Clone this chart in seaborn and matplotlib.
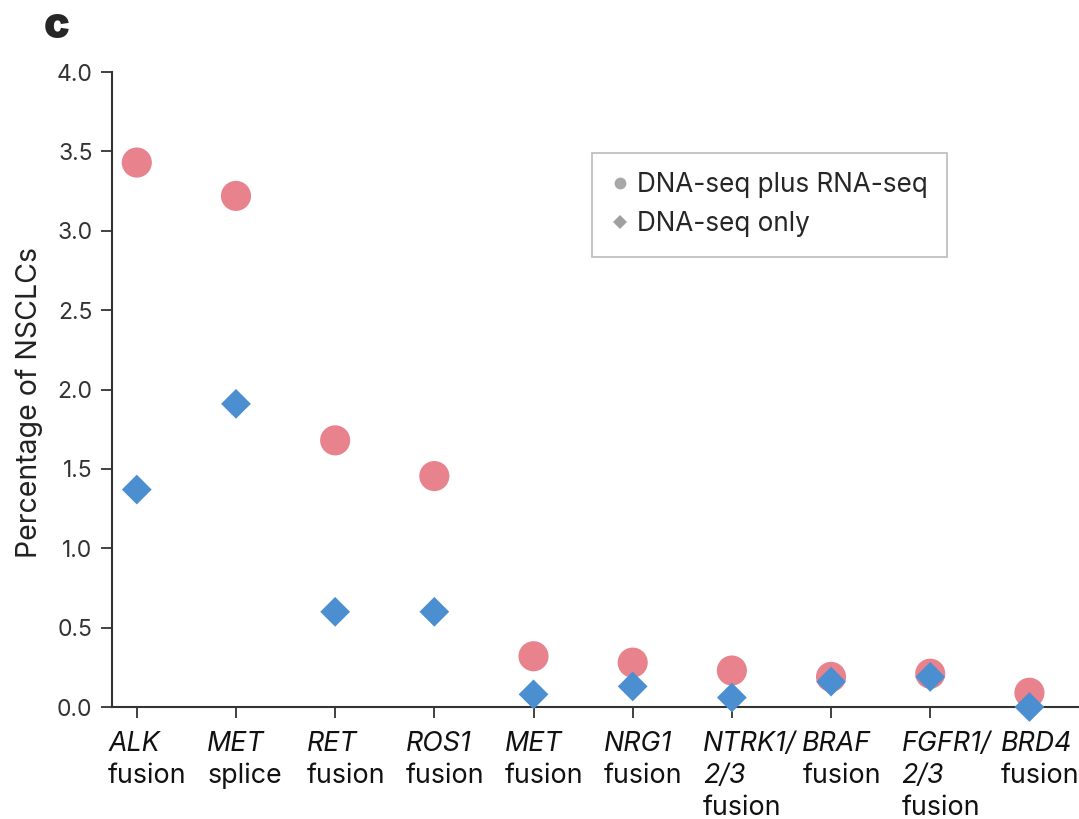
import matplotlib
matplotlib.use("Agg")
import matplotlib.pyplot as plt
import seaborn as sns
import pandas as pd
from matplotlib.lines import Line2D

genes = ["ALK", "MET", "RET", "ROS1", "MET", "NRG1", "NTRK1/\n2/3", "BRAF", "FGFR1/\n2/3", "BRD4"]
suffix = ["fusion", "splice", "fusion", "fusion", "fusion", "fusion", "fusion", "fusion", "fusion", "fusion"]
dna_rna = [3.43, 3.22, 1.68, 1.455, 0.32, 0.28, 0.23, 0.19, 0.21, 0.09]
dna_only = [1.37, 1.91, 0.60, 0.60, 0.08, 0.13, 0.06, 0.16, 0.19, 0.0]
yticks = [0, 0.5, 1, 1.5, 2, 2.5, 3, 3.5, 4]
ytick_labels = ["0.0", "0.5", "1.0", "1.5", "2.0", "2.5", "3.0", "3.5", "4.0"]

sns.set_theme(style="ticks")
plt.rcParams['font.family'] = ['Inter', 'DejaVu Sans']

idx = list(range(len(genes)))
df = pd.DataFrame({
    "x": idx + idx,
    "value": dna_rna + dna_only,
    "method": ["DNA-seq plus RNA-seq"] * len(idx) + ["DNA-seq only"] * len(idx),
})

fig = plt.figure(figsize=(10.79, 8.19), dpi=100)
ax = fig.add_axes([0.1038, 0.1367, 0.8962, 0.7753])

red = "#e8828c"
blue = "#4b8fd1"
sns.scatterplot(data=df[df.method == "DNA-seq plus RNA-seq"], x="x", y="value", color=red,
                marker="o", s=470, edgecolor="none", ax=ax, legend=False, clip_on=False, zorder=3)
sns.scatterplot(data=df[df.method == "DNA-seq only"], x="x", y="value", color=blue,
                marker="D", s=230, edgecolor="none", ax=ax, legend=False, clip_on=False, zorder=4)

ax.set_xlim(-0.25, 9.5)
ax.set_ylim(0, 4)
ax.set_yticks(yticks)
ax.set_yticklabels(ytick_labels, fontsize=16.5, color="#333333")
ax.set_xticks(idx)
ax.set_xticklabels([])
for i, (g, s) in enumerate(zip(genes, suffix)):
    gl = g.split("\n")
    lines = [(t, "italic") for t in gl] + [(s, "normal")]
    for j, (t, st) in enumerate(lines):
        ax.text(i - 0.29, -0.23 - j * 0.203, t, style=st, fontsize=19.3, ha="left", va="center",
                color="#111111", transform=ax.transData, clip_on=False)

ax.set_xlabel("")
ax.set_ylabel("Percentage of NSCLCs", fontsize=20.5, color="#222222")
ax.yaxis.set_label_coords(-0.071, 0.48)
for sp in ["top", "right"]:
    ax.spines[sp].set_visible(False)
for sp in ["left", "bottom"]:
    ax.spines[sp].set_linewidth(1.5)
    ax.spines[sp].set_color("#333333")
ax.tick_params(axis="both", length=8, width=1.3, color="#333333")
ax.tick_params(axis="y", pad=6)

handles = [Line2D([], [], marker="o", linestyle="none", color="#a8a8a8", markersize=8.5, markeredgewidth=0),
           Line2D([], [], marker="D", linestyle="none", color="#a0a0a0", markersize=7, markeredgewidth=0)]
leg = ax.legend(handles, ["DNA-seq plus RNA-seq", "DNA-seq only"], loc="upper left",
                bbox_to_anchor=(0.4965, 0.873), frameon=True, fancybox=False, fontsize=18.8,
                handlelength=0.6, handletextpad=0.35, borderpad=0.75, labelspacing=0.5,
                edgecolor="#aaaaaa", borderaxespad=0)
leg.get_frame().set_linewidth(1.2)

fig.text(0.041, 0.968, "c", fontsize=31, fontweight="black", va="center", ha="left")

fig.savefig("out.png", dpi=100)
